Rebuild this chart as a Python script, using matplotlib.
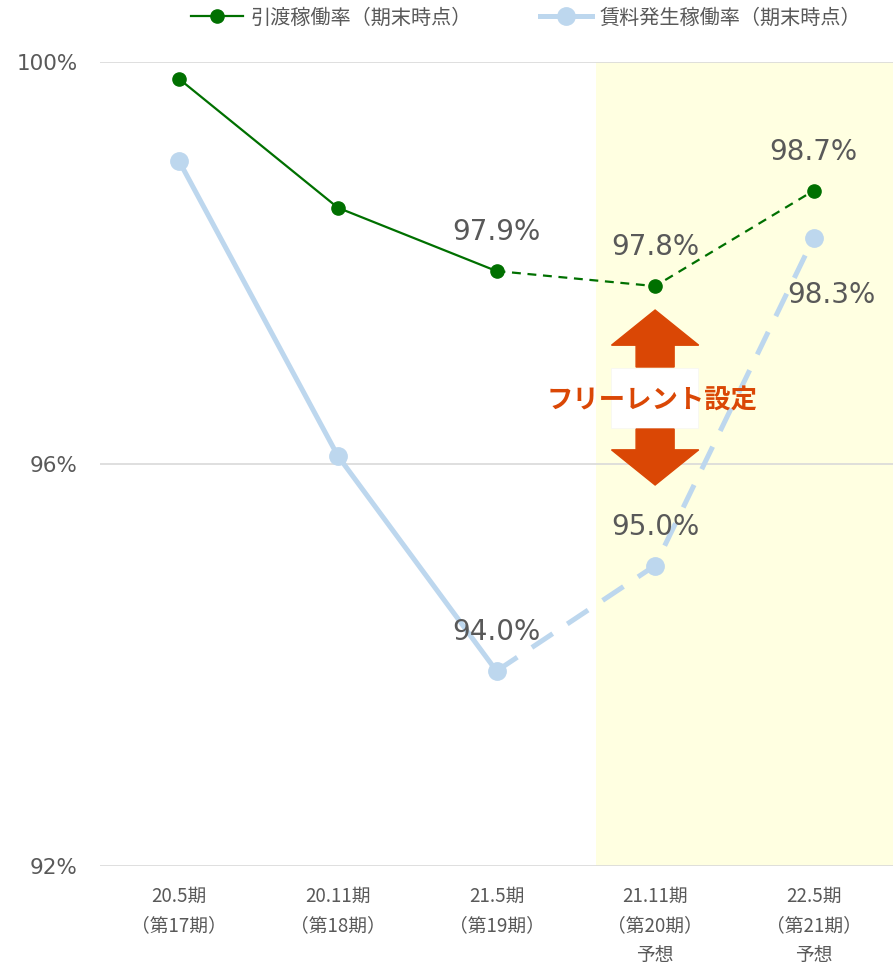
import matplotlib.pyplot as plt
from matplotlib.patches import Rectangle, FancyArrow

plt.rcParams['font.family'] = ['Noto Sans CJK JP', 'DejaVu Sans']

periods = ["20.5期\n（第17期）", "20.11期\n（第18期）", "21.5期\n（第19期）",
           "21.11期\n（第20期）\n予想", "22.5期\n（第21期）\n予想"]
delivery_rate = [99.83, 98.55, 97.92, 97.77, 98.72]
rent_rate = [99.01, 96.08, 93.94, 94.99, 98.25]
delivery_labels = [None, None, "97.9%", "97.8%", "98.7%"]
rent_labels = [None, None, "94.0%", "95.0%", "98.3%"]

green = "#007000"
blue = "#BDD7EE"
orange = "#DA4705"
gray = "#595959"

fig = plt.figure(figsize=(8.94, 9.67), dpi=100)
ax = fig.add_axes([100 / 894, 101 / 967, 793 / 894, 804 / 967])

x = list(range(len(periods)))

# forecast background
ax.add_patch(Rectangle((2.63, 92), 1.87, 8, facecolor="#FFFFE1", edgecolor="none", zorder=0))

# rent line: solid for actuals, dashed for forecast
ax.plot(x[:3], rent_rate[:3], color=blue, lw=3.6, zorder=2)
ax.plot(x[2:], rent_rate[2:], color=blue, lw=3.6, ls=(0, (5, 3.5)), zorder=2)
ax.plot(x, rent_rate, ls="none", marker="o", ms=12.5, color=blue, zorder=3)

ax.plot(x[:3], delivery_rate[:3], color=green, lw=1.6, zorder=4)
ax.plot(x[2:], delivery_rate[2:], color=green, lw=1.6, ls=(0, (4, 3)), zorder=4)
ax.plot(x, delivery_rate, ls="none", marker="o", ms=9.5, color=green, zorder=5)

for i, lab in enumerate(delivery_labels):
    if lab:
        ax.annotate(lab, (x[i], delivery_rate[i]), xytext=(0, 28), textcoords="offset points",
                    ha="center", va="center", fontsize=20, color=gray, family="DejaVu Sans", zorder=6)
rent_off = [None, None, (0, 28), (0, 28), (13, -41)]
for i, lab in enumerate(rent_labels):
    if lab:
        ax.annotate(lab, (x[i], rent_rate[i]), xytext=rent_off[i], textcoords="offset points",
                    ha="center", va="center", fontsize=20, color=gray, family="DejaVu Sans", zorder=6)

# free rent arrows
ax.add_patch(Rectangle((2.72, 96.36), 0.55, 0.6, facecolor="white", edgecolor="#F7F7F2",
                       lw=0.6, zorder=1))
ax.add_patch(FancyArrow(3.0, 96.965, 0, 0.567, width=0.24, head_width=0.55, head_length=0.35,
                        length_includes_head=True, color=orange, zorder=6))
ax.add_patch(FancyArrow(3.0, 96.348, 0, -0.557, width=0.24, head_width=0.55, head_length=0.35,
                        length_includes_head=True, color=orange, zorder=6))
ax.text(2.98, 96.63, "フリーレント設定", ha="center", va="center", fontsize=19,
        fontweight="bold", color=orange, zorder=7)

ax.set_xlim(-0.5, 4.5)
ax.set_ylim(92, 100)
ax.set_yticks([92, 96, 100])
ax.set_yticklabels(["92%", "96%", "100%"])
ax.set_xticks(x)
ax.set_xticklabels(periods, linespacing=1.55, va="top")
ax.tick_params(axis="y", length=0, labelsize=15.5, labelcolor=gray, pad=16)
ax.tick_params(axis="x", length=0, labelsize=13.5, labelcolor=gray, pad=14)
for lab in ax.get_yticklabels():
    lab.set_family("DejaVu Sans")
ax.yaxis.grid(True, color="#D9D9D9", lw=1.2)
ax.set_axisbelow(True)
for s in ax.spines.values():
    s.set_visible(False)

h1, = ax.plot([], [], color=green, lw=1.6, marker="o", ms=9.5, label="引渡稼働率（期末時点）")
h2, = ax.plot([], [], color=blue, lw=3.6, marker="o", ms=12.5, label="賃料発生稼働率（期末時点）")
fig.legend(handles=[h1, h2], loc="center", bbox_to_anchor=(526 / 894, 1 - 18 / 967), ncol=2,
           frameon=False, fontsize=14.5, labelcolor=gray, handlelength=2.6, columnspacing=3.4,
           handletextpad=0.35)

fig.savefig("out.png", dpi=100)
